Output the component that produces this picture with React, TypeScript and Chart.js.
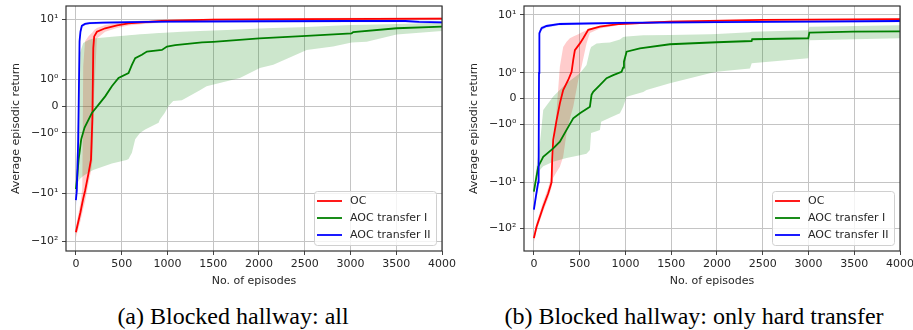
import React, { useEffect, useRef } from 'react';
import { Chart, registerables, LinearScale } from 'chart.js';

Chart.register(...registerables);

// ---------------- data ----------------
const episodeTicks = [0, 500, 1000, 1500, 2000, 2500, 3000, 3500, 4000];
const returnTicks = [-100, -10, -1, 0, 1, 10];
const returnTickLabels = ['−10²', '−10¹', '−10⁰', '0', '10⁰', '10¹'];
const seriesNames = ['OC', 'AOC transfer I', 'AOC transfer II'];
const captions = ['(a) Blocked hallway: all', '(b) Blocked hallway: only hard transfer'];

// (a) all — OC
const aOcX = [0, 50, 70, 80, 100, 140, 165, 180, 190, 200, 230, 320, 450, 575, 940, 1500, 2500, 4000];
const aOcMean = [-65, -25, -16, -13, -9, -3.7, -2, -0.5, 2.5, 4.4, 5.5, 6.5, 7.5, 8.2, 9.3, 9.8, 10.1, 10.3];
const aOcUpper = [-50, -16, -8, 1.5, 3.5, 4.5, 5.0, 5.3, 5.6, 6.0, 6.6, 7.6, 8.4, 9.0, 9.9, 10.3, 10.6, 10.9];
const aOcLower = [-85, -38, -26, -21, -15, -6, -3.5, -2.2, -1, 0.5, 4.0, 5.5, 6.6, 7.4, 8.7, 9.3, 9.7, 9.8];
// (a) all — AOC transfer I
const aT1X = [0, 15, 29, 58, 95, 175, 248, 320, 393, 466, 575, 612, 648, 721, 776, 940, 995, 1085, 1377, 1500, 2003, 2521, 3013, 3030, 3505, 4000];
const aT1Mean = [-8.2, -4.5, -2.05, -1.24, -0.8, -0.25, 0.06, 0.37, 0.75, 1.06, 1.24, 1.55, 1.8, 1.93, 2.13, 2.3, 2.7, 2.9, 3.3, 3.4, 4.0, 4.5, 5.1, 5.4, 6.5, 7.0];
const aT1BandX = [0, 20, 45, 80, 139, 189, 393, 554, 575, 612, 648, 700, 757, 904, 918, 970, 1010, 1063, 1158, 1355, 1428, 1792, 2010, 2157, 2448, 2521, 2810, 3013, 3177, 3505, 4000];
const aT1Upper = [-5, -1, 2.0, 3.2, 3.7, 4.0, 4.35, 4.6, 4.65, 4.7, 4.75, 4.85, 4.95, 5.2, 5.2, 5.25, 5.3, 5.35, 5.5, 5.7, 5.8, 6.15, 6.4, 6.55, 6.85, 6.9, 7.3, 7.6, 7.7, 8.0, 8.5];
const aT1Lower = [-9, -6, -5, -4.4, -3.7, -3.3, -2.4, -2.05, -1.98, -1.74, -1.24, -1.0, -0.87, -0.62, -0.5, -0.25, 0, 0.2, 0.22, 0.6, 0.75, 1.06, 1.43, 1.55, 1.99, 2.3, 2.7, 3.3, 3.4, 4.8, 5.7];
// (a) all — AOC transfer II
const aT2X = [0, 10, 25, 40, 50, 65, 100, 150, 300, 600, 1000, 2000, 3000, 3600, 3750, 4000];
const aT2Mean = [-14, -9, -1.3, 3.5, 5.5, 7.3, 8.0, 8.3, 8.5, 8.7, 8.9, 9.1, 9.2, 9.2, 8.8, 8.6];
const aT2Upper = [-11, -6, 0, 4.5, 6.3, 7.9, 8.5, 8.8, 9.0, 9.2, 9.4, 9.6, 9.7, 9.7, 9.4, 9.2];
const aT2Lower = [-20, -12, -2.5, 2.5, 4.8, 6.7, 7.5, 7.9, 8.0, 8.2, 8.4, 8.6, 8.7, 8.7, 8.3, 8.1];

// (b) only hard transfer — OC
const bOcX = [0, 29, 102, 157, 193, 200, 211, 248, 284, 320, 375, 412, 430, 448, 503, 539, 594, 721, 940, 1486, 2500, 4000];
const bOcMean = [-160, -91, -33.6, -17.2, -10, -3.3, -1.61, -0.84, -0.19, 0.33, 0.72, 1.04, 1.5, 1.88, 2.4, 3.1, 4.7, 5.5, 6.3, 7.1, 7.7, 8.0];
const bOcBandX = [0, 29, 102, 157, 193, 211, 248, 284, 320, 357, 393, 430, 485, 521, 575, 612, 721, 940, 1486, 2500, 4000];
const bOcUpper = [-130, -75, -26, -13, -7, -3.5, -0.45, 1.24, 2.0, 2.6, 3.1, 3.4, 3.8, 4.1, 4.6, 5.0, 5.8, 6.6, 7.4, 8.0, 8.3];
const bOcLower = [-200, -110, -42, -22, -13, -8, -6, -4.6, -2.8, -1.35, -0.8, -0.32, 0.72, 1.24, 2.4, 4.0, 5.0, 6.0, 6.8, 7.4, 7.7];
// (b) — AOC transfer I
const bT1X = [0, 47, 102, 211, 284, 357, 430, 503, 600, 612, 630, 648, 721, 794, 867, 958, 975, 984, 1013, 1158, 1486, 1997, 2379, 2385, 2998, 3010, 3490, 4000];
const bT1Mean = [-15.8, -4.6, -2.8, -1.94, -1.68, -1.22, -0.77, -0.57, -0.35, -0.32, 0.14, 0.26, 0.52, 0.79, 0.91, 1.04, 1.2, 1.43, 1.82, 1.95, 2.3, 2.54, 2.7, 2.95, 3.1, 4.1, 4.3, 4.35];
const bT1BandX = [0, 29, 66, 102, 211, 357, 503, 575, 612, 625, 685, 721, 735, 830, 940, 976, 1013, 1195, 1231, 1486, 1923, 1997, 2361, 2380, 2998, 3010, 4000];
const bT1Upper = [-12, -4.6, -1.74, -0.45, 0.08, 0.59, 0.98, 1.3, 1.88, 2.0, 2.4, 2.42, 2.44, 2.5, 2.9, 3.3, 3.4, 3.6, 3.6, 3.65, 3.8, 3.85, 4.2, 4.3, 4.6, 5.5, 5.9];
const bT1Lower = [-20, -8, -5.4, -4.5, -3.6, -3.0, -2.6, -2.4, -2.0, -1.34, -1.27, -1.22, -0.9, -0.75, -0.57, -0.32, 0.07, 0.25, 0.33, 0.59, 0.98, 1.04, 1.17, 1.37, 1.56, 2.8, 3.1];
// (b) — AOC transfer II
const bT2X = [0, 22, 47, 52, 56, 60, 84, 138, 284, 940, 2000, 3000, 4000];
const bT2Mean = [-39, -20, -10, -4, 1, 4.0, 5.1, 5.7, 6.3, 6.65, 6.9, 7.1, 7.3];
const bT2Upper = [-32, -16, -7, -2.5, 2, 4.6, 5.6, 6.1, 6.7, 7.0, 7.3, 7.5, 7.7];
const bT2Lower = [-48, -26, -14, -6, 0, 3.4, 4.6, 5.3, 5.9, 6.3, 6.5, 6.7, 6.9];

// ---------------- symlog scale ----------------
const LIN_THRESH = 2;
const LIN_SCALE_ADJ = 1 / (1 - 1 / 10);
function symlog(v: number) {
  const a = Math.abs(v);
  return a <= LIN_THRESH ? v * LIN_SCALE_ADJ : Math.sign(v) * LIN_THRESH * (LIN_SCALE_ADJ + Math.log10(a / LIN_THRESH));
}
function symexp(u: number) {
  const a = Math.abs(u);
  return a <= LIN_THRESH * LIN_SCALE_ADJ ? u / LIN_SCALE_ADJ : Math.sign(u) * LIN_THRESH * Math.pow(10, a / LIN_THRESH - LIN_SCALE_ADJ);
}

class SymlogScale extends (LinearScale as any) {
  static id = 'symlog';
  static defaults = {};
  configure() {
    super.configure();
    (this as any)._tStart = symlog((this as any).min);
    (this as any)._tRange = symlog((this as any).max) - (this as any)._tStart;
  }
  getPixelForValue(v: any) {
    if (v === null || v === undefined || isNaN(v)) return NaN;
    return (this as any).getPixelForDecimal((symlog(v) - (this as any)._tStart) / (this as any)._tRange);
  }
  getValueForPixel(p: number) {
    return symexp((this as any)._tStart + (this as any).getDecimalForPixel(p) * (this as any)._tRange);
  }
}
Chart.register(SymlogScale as any);

// ---------------- helpers ----------------
const COLORS = ['#ff0000', '#008000', '#0000ff'];
const BANDS = ['rgba(255,0,0,0.2)', 'rgba(0,128,0,0.2)', 'rgba(0,0,255,0.2)'];
const FONT = '"DejaVu Sans", sans-serif';
const TEXT = '#262626';

function pts(xs: number[], ys: number[]) {
  return xs.map((x, i) => ({ x, y: ys[i] }));
}

const framePlugin = {
  id: 'frame',
  afterDatasetsDraw(chart: any) {
    const { ctx, chartArea: a } = chart;
    ctx.save();
    ctx.strokeStyle = '#333333';
    ctx.lineWidth = 1.2;
    ctx.strokeRect(a.left, a.top, a.right - a.left, a.bottom - a.top);
    ctx.restore();
  },
};

const boxLegendPlugin = {
  id: 'boxLegend',
  afterDraw(chart: any) {
    const { ctx, chartArea: a } = chart;
    const w = 122, h = 54;
    const x = a.right - 6 - w, y = a.bottom - 6 - h;
    ctx.save();
    ctx.beginPath();
    if (ctx.roundRect) ctx.roundRect(x + 0.5, y + 0.5, w, h, 3); else ctx.rect(x + 0.5, y + 0.5, w, h);
    ctx.fillStyle = 'rgba(255,255,255,0.8)';
    ctx.fill();
    ctx.strokeStyle = '#d0d0d0';
    ctx.lineWidth = 1;
    ctx.stroke();
    ctx.font = '11px ' + FONT;
    ctx.textBaseline = 'middle';
    ctx.textAlign = 'left';
    seriesNames.forEach((name, i) => {
      const cy = y + 10 + i * 17;
      ctx.beginPath();
      ctx.moveTo(x + 3, cy);
      ctx.lineTo(x + 28, cy);
      ctx.strokeStyle = COLORS[i];
      ctx.lineWidth = 1.8;
      ctx.stroke();
      ctx.fillStyle = TEXT;
      ctx.fillText(name, x + 36, cy + 0.5);
    });
    ctx.restore();
  },
};

interface Series { x: number[]; mean: number[]; bandX: number[]; upper: number[]; lower: number[] }

function buildConfig(series: Series[], yMin: number, yMax: number, padRight: number) {
  const lineSets = [2, 1, 0].map((i) => ({
    label: seriesNames[i],
    data: pts(series[i].x, series[i].mean),
    borderColor: COLORS[i],
    backgroundColor: COLORS[i],
    borderWidth: 1.8,
    pointRadius: 0,
    tension: 0,
    fill: false,
  }));
  const bandSets: any[] = [];
  [2, 1, 0].forEach((i) => {
    bandSets.push({
      label: seriesNames[i] + ' upper',
      data: pts(series[i].bandX, series[i].upper),
      borderWidth: 0,
      borderColor: 'rgba(0,0,0,0)',
      backgroundColor: BANDS[i],
      pointRadius: 0,
      tension: 0,
      fill: '+1',
    });
    bandSets.push({
      label: seriesNames[i] + ' lower',
      data: pts(series[i].bandX, series[i].lower),
      borderWidth: 0,
      borderColor: 'rgba(0,0,0,0)',
      backgroundColor: BANDS[i],
      pointRadius: 0,
      tension: 0,
      fill: false,
    });
  });
  return {
    type: 'line' as const,
    data: { datasets: [...lineSets, ...bandSets] },
    plugins: [framePlugin, boxLegendPlugin],
    options: {
      responsive: false,
      animation: false,
      events: [],
      layout: { autoPadding: false, padding: { left: 0, right: padRight, top: 6, bottom: 0 } },
      plugins: { legend: { display: false }, tooltip: { enabled: false } },
      scales: {
        x: {
          type: 'linear',
          min: -108,
          max: 4000,
          bounds: 'data',
          border: { display: false },
          grid: { color: '#c4c4c4', lineWidth: 1, tickLength: 4, tickColor: '#444' },
          ticks: {
            autoSkip: false,
            maxRotation: 0,
            padding: 3,
            color: TEXT,
            font: { family: FONT, size: 11 },
            callback: (v: any) => String(v),
          },
          afterBuildTicks: (s: any) => { s.ticks = episodeTicks.map((value) => ({ value })); },
          afterFit: (s: any) => { s.height = 39; s.paddingLeft = 0; s.paddingRight = 0; },
          title: { display: true, text: 'No. of episodes', color: TEXT, font: { family: FONT, size: 11 }, padding: { top: 0, bottom: 2.5 } },
        },
        y: {
          type: 'symlog',
          min: yMin,
          max: yMax,
          bounds: 'data',
          border: { display: false },
          grid: { color: '#c4c4c4', lineWidth: 1, tickLength: 4, tickColor: '#444' },
          ticks: {
            autoSkip: false,
            padding: 3.5,
            color: TEXT,
            font: { family: FONT, size: 11 },
            callback: (v: any) => {
              const k = returnTicks.indexOf(v);
              return k >= 0 ? returnTickLabels[k] : '';
            },
          },
          afterBuildTicks: (s: any) => { s.ticks = returnTicks.map((value) => ({ value })); },
          afterFit: (s: any) => { s.width = 66; s.paddingTop = 0; s.paddingBottom = 0; },
          title: { display: true, text: 'Average episodic return', color: TEXT, font: { family: FONT, size: 11 }, padding: { top: 10, bottom: 0 } },
        },
      },
    },
  };
}

function Panel({ left, width, series, yMin, yMax, padRight }: any) {
  const ref = useRef<HTMLCanvasElement | null>(null);
  useEffect(() => {
    if (!ref.current) return;
    const chart = new Chart(ref.current, buildConfig(series, yMin, yMax, padRight) as any);
    return () => chart.destroy();
  }, []);
  return (
    <canvas
      ref={ref}
      width={width}
      height={290}
      style={{ position: 'absolute', left, top: 0, width, height: 290 }}
    />
  );
}

const seriesA: Series[] = [
  { x: aOcX, mean: aOcMean, bandX: aOcX, upper: aOcUpper, lower: aOcLower },
  { x: aT1X, mean: aT1Mean, bandX: aT1BandX, upper: aT1Upper, lower: aT1Lower },
  { x: aT2X, mean: aT2Mean, bandX: aT2X, upper: aT2Upper, lower: aT2Lower },
];
const seriesB: Series[] = [
  { x: bOcX, mean: bOcMean, bandX: bOcBandX, upper: bOcUpper, lower: bOcLower },
  { x: bT1X, mean: bT1Mean, bandX: bT1BandX, upper: bT1Upper, lower: bT1Lower },
  { x: bT2X, mean: bT2Mean, bandX: bT2X, upper: bT2Upper, lower: bT2Lower },
];

const captionStyle = (center: number): React.CSSProperties => ({
  position: 'absolute',
  left: center - 250,
  width: 500,
  top: 304,
  textAlign: 'center',
  fontFamily: '"Liberation Serif", "Times New Roman", serif',
  fontSize: 24,
  lineHeight: '24px',
  color: '#000',
  whiteSpace: 'nowrap',
});

export default function App() {
  return (
    <div style={{ position: 'fixed', left: 0, top: 0, width: 913, height: 330, background: '#fff', overflow: 'hidden' }}>
      <Panel left={0} width={456} series={seriesA} yMin={-160} yMax={18.9} padRight={14} />
      <Panel left={458} width={455} series={seriesB} yMin={-304} yMax={15.4} padRight={13} />
      <div style={captionStyle(233)}>{captions[0]}</div>
      <div style={captionStyle(694)}>{captions[1]}</div>
    </div>
  );
}
